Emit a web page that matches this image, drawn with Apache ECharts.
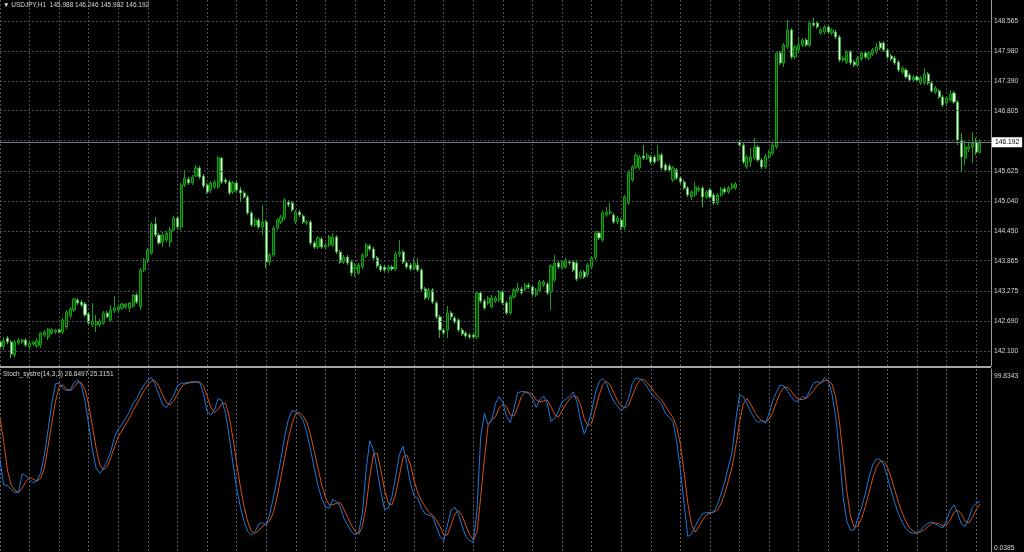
<!DOCTYPE html>
<html><head><meta charset="utf-8">
<script src="https://cdn.jsdelivr.net/npm/echarts@6/dist/echarts.min.js"></script>
<style>html,body{margin:0;padding:0;background:#000;}#c{width:1024px;height:552px;}</style>
</head><body><div id="c"></div><script>
const symbolName = 'USDJPY,H1';
const open = [142.277,142.199,142.356,142.277,142.023,142.258,142.277,142.316,142.179,142.238,
142.199,142.218,142.414,142.375,142.454,142.473,142.512,142.473,142.571,142.787,
142.904,143.100,143.061,143.022,142.826,142.610,142.610,142.610,142.649,142.845,
142.708,142.885,142.904,142.943,142.963,142.943,142.982,143.198,142.963,143.688,
143.884,144.021,144.589,144.373,144.236,144.275,144.236,144.471,144.706,144.530,
145.353,145.470,145.392,145.529,145.686,145.529,145.353,145.255,145.314,145.314,
145.882,145.451,145.412,145.216,145.392,145.255,145.196,145.118,144.804,144.569,
144.667,144.530,144.628,143.844,143.982,144.511,144.628,144.706,145.020,145.000,
144.628,144.824,144.746,144.608,144.628,144.217,144.138,144.295,144.138,144.177,
144.177,144.334,144.040,143.844,143.942,143.844,143.707,143.629,143.746,143.962,
144.158,144.099,143.923,143.766,143.746,143.688,143.746,143.707,144.001,144.040,
143.825,143.786,143.727,143.786,143.688,143.316,143.159,143.296,143.041,142.767,
142.512,142.512,142.845,142.747,142.708,142.512,142.454,142.414,142.414,142.375,
143.237,143.080,143.041,142.963,143.080,143.100,143.257,143.041,142.845,143.159,
143.276,143.316,143.316,143.394,143.355,143.198,143.296,143.394,143.413,143.257,
143.492,143.825,143.746,143.746,143.844,143.844,143.825,143.551,143.649,143.590,
143.746,143.923,144.413,144.275,144.765,144.804,144.765,144.628,144.667,144.530,
145.000,145.451,145.706,145.686,145.921,145.882,145.901,145.901,145.843,145.941,
145.745,145.725,145.451,145.647,145.490,145.412,145.294,145.118,145.157,145.255,
145.294,145.118,145.255,145.157,145.000,145.157,145.275,145.216,145.294,145.294,
146.195,146.136,145.706,145.803,145.882,146.097,145.843,145.706,145.901,145.980,
146.097,147.939,147.743,148.056,148.389,147.860,147.998,148.095,148.193,148.095,
148.526,148.526,148.331,148.350,148.448,148.331,148.350,148.252,147.802,147.762,
147.958,147.762,147.704,147.821,147.939,147.841,147.919,147.958,148.135,148.135,
147.998,147.880,147.841,147.762,147.567,147.606,147.508,147.410,147.469,147.351,
147.351,147.527,147.351,147.175,147.194,147.077,146.959,147.018,147.155,146.979,
146.234,145.882,146.058,146.097,146.195,145.988];
const close = [142.179,142.297,142.277,142.042,142.277,142.316,142.316,142.218,142.258,142.277,
142.297,142.454,142.473,142.532,142.512,142.512,142.473,142.708,142.865,142.924,
143.120,143.041,143.002,142.806,142.649,142.689,142.669,142.689,142.845,142.767,
142.904,142.943,142.963,143.022,143.022,143.041,143.198,143.061,143.688,143.884,
144.080,144.589,144.373,144.217,144.373,144.413,144.471,144.706,144.530,145.353,
145.490,145.392,145.510,145.686,145.510,145.333,145.216,145.392,145.412,145.882,
145.412,145.412,145.196,145.392,145.255,145.196,145.118,144.804,144.569,144.667,
144.530,144.628,143.844,143.982,144.511,144.667,144.726,145.059,144.961,144.863,
144.824,144.765,144.628,144.628,144.217,144.138,144.315,144.138,144.177,144.334,
144.334,144.040,143.844,143.942,143.825,143.629,143.746,143.786,143.982,144.177,
144.099,143.923,143.766,143.688,143.688,143.746,143.707,144.001,144.040,143.844,
143.746,143.707,143.825,143.688,143.316,143.139,143.296,143.061,142.767,142.512,
142.454,142.845,142.767,142.669,142.512,142.434,142.395,142.375,142.375,143.237,
143.080,142.943,143.139,143.139,143.139,143.257,143.041,142.845,143.159,143.296,
143.335,143.237,143.394,143.355,143.218,143.296,143.453,143.453,143.237,143.766,
143.825,143.746,143.844,143.884,143.825,143.688,143.511,143.649,143.551,143.786,
143.923,144.413,144.315,144.804,144.824,144.824,144.628,144.706,144.530,145.118,
145.608,145.706,145.941,145.901,145.882,145.941,145.803,145.803,145.941,145.686,
145.647,145.647,145.686,145.490,145.412,145.294,145.157,145.216,145.314,145.294,
145.118,145.216,145.118,145.000,145.157,145.275,145.216,145.294,145.353,145.372,
146.136,145.803,145.901,145.901,146.097,145.843,145.706,145.921,145.999,146.136,
147.939,147.743,148.095,148.389,147.860,148.056,148.095,148.193,148.095,148.526,
148.487,148.448,148.389,148.448,148.350,148.389,148.252,147.802,147.841,147.958,
147.743,147.704,147.841,147.939,147.860,147.939,147.998,148.056,148.037,147.998,
147.860,147.821,147.743,147.606,147.645,147.469,147.410,147.469,147.410,147.449,
147.527,147.351,147.194,147.253,147.077,146.920,147.057,147.136,146.979,146.234,
145.901,146.097,146.097,146.176,145.999,146.192];
const low = [142.081,142.121,142.238,141.964,141.983,142.218,142.238,142.179,142.121,142.199,
142.160,142.160,142.375,142.316,142.414,142.434,142.454,142.434,142.532,142.747,
142.865,143.002,142.963,142.767,142.610,142.571,142.473,142.571,142.610,142.747,
142.669,142.845,142.865,142.904,142.924,142.865,142.943,143.022,142.904,143.649,
143.825,143.982,144.334,144.177,144.138,144.236,144.138,144.432,144.491,144.471,
145.314,145.353,145.353,145.510,145.470,145.294,145.177,145.196,145.275,145.275,
145.372,145.372,145.157,145.177,145.216,145.020,145.079,144.765,144.530,144.530,
144.491,144.373,143.727,143.786,143.942,144.471,144.589,144.667,144.922,144.824,
144.589,144.726,144.589,144.569,144.177,144.099,144.099,144.099,144.099,144.138,
144.138,144.001,143.805,143.805,143.786,143.570,143.551,143.590,143.707,143.923,
144.060,143.884,143.727,143.649,143.649,143.629,143.668,143.668,143.942,143.805,
143.707,143.668,143.688,143.649,143.276,143.100,143.100,143.022,142.728,142.356,
142.414,142.356,142.708,142.630,142.473,142.395,142.356,142.336,142.336,142.336,
143.041,142.904,143.002,142.943,143.041,143.061,143.002,142.806,142.806,143.120,
143.237,143.198,143.276,143.316,143.178,143.159,143.257,143.355,143.198,142.904,
143.453,143.707,143.707,143.707,143.786,143.649,143.472,143.511,143.511,143.551,
143.707,143.884,144.275,144.236,144.726,144.765,144.589,144.589,144.471,144.471,
144.961,145.412,145.666,145.647,145.843,145.843,145.764,145.764,145.803,145.647,
145.608,145.608,145.412,145.451,145.372,145.255,145.118,145.059,145.118,145.216,
144.922,145.079,145.079,144.961,144.961,145.118,145.177,145.177,145.255,145.255,
146.097,145.764,145.666,145.706,145.843,145.803,145.666,145.666,145.862,145.941,
146.058,147.704,147.665,148.017,147.821,147.821,147.939,148.056,148.056,148.056,
148.448,148.409,148.291,148.311,148.311,148.291,148.213,147.762,147.762,147.723,
147.704,147.665,147.665,147.782,147.821,147.802,147.880,147.919,147.998,147.958,
147.821,147.782,147.704,147.567,147.527,147.429,147.371,147.371,147.371,147.312,
147.312,147.312,147.155,147.136,147.038,146.881,146.900,146.979,146.940,146.136,
145.608,145.745,145.999,145.784,145.941,145.982];
const high = [142.375,142.375,142.395,142.316,142.316,142.356,142.336,142.356,142.297,142.297,
142.356,142.473,142.512,142.552,142.552,142.532,142.532,142.747,142.904,142.963,
143.139,143.139,143.100,143.061,142.865,143.041,142.806,142.728,142.885,142.885,
143.002,143.178,143.002,143.041,143.041,143.061,143.218,143.237,143.727,143.923,
144.119,144.628,144.726,144.413,144.432,144.452,144.530,144.746,144.746,145.392,
145.647,145.510,145.549,145.745,145.725,145.568,145.392,145.431,145.451,145.921,
145.901,145.490,145.451,145.431,145.431,145.314,145.235,145.157,144.844,144.706,
144.706,144.961,144.667,144.021,144.550,144.706,144.765,145.098,145.059,145.039,
144.863,144.863,144.785,144.667,144.667,144.256,144.354,144.334,144.217,144.373,
144.413,144.373,144.080,143.982,143.982,143.884,143.825,143.825,144.021,144.217,
144.197,144.138,143.962,143.805,143.786,143.786,143.786,144.040,144.275,144.080,
143.864,143.825,143.923,143.923,143.727,143.355,143.335,143.335,143.080,142.806,
142.552,142.982,142.885,142.787,142.747,142.552,142.493,142.454,142.454,143.276,
143.276,143.120,143.178,143.198,143.178,143.296,143.296,143.080,143.198,143.335,
143.433,143.355,143.433,143.433,143.394,143.335,143.492,143.492,143.453,143.805,
143.982,143.864,143.884,143.923,143.884,143.884,143.864,143.688,143.688,143.825,
143.962,144.452,144.452,144.844,144.922,145.000,144.804,144.746,144.706,145.157,
145.647,145.745,145.980,145.941,146.136,145.980,145.941,145.941,146.136,145.980,
145.784,145.764,145.725,145.686,145.529,145.451,145.333,145.255,145.412,145.333,
145.333,145.255,145.294,145.196,145.196,145.314,145.314,145.333,145.392,145.412,
146.234,146.176,145.941,146.078,146.274,146.136,145.882,145.960,146.038,146.176,
147.978,147.978,148.135,148.585,148.428,148.095,148.252,148.233,148.233,148.566,
148.624,148.566,148.428,148.487,148.487,148.428,148.389,148.291,147.880,147.998,
147.998,147.802,147.880,147.978,147.978,147.978,148.037,148.135,148.174,148.174,
148.037,147.919,147.880,147.802,147.684,147.645,147.547,147.508,147.508,147.488,
147.645,147.567,147.390,147.292,147.233,147.116,147.096,147.214,147.194,147.018,
146.372,146.234,146.176,146.391,146.274,146.246];
const stochMain = [51.1,36.6,36.2,34.1,32.3,32.1,43.0,41.8,39.5,37.9,
39.1,43.4,54.0,68.5,84.0,95.3,95.7,92.7,91.4,91.8,
96.0,97.6,94.7,85.0,71.4,56.9,46.3,43.4,46.3,50.7,
56.3,64.7,68.9,71.8,75.3,79.2,84.0,86.9,91.4,94.7,
97.6,98.9,94.7,88.9,83.1,81.5,85.0,88.9,94.1,95.7,
95.8,96.2,96.6,96.6,96.0,89.8,79.2,77.3,80.2,86.9,
85.6,78.2,64.7,49.2,34.6,24.0,15.3,9.5,7.5,9.5,
13.9,14.7,13.3,20.1,29.8,40.4,52.1,64.7,74.7,79.8,
79.2,77.3,74.0,66.6,56.9,46.3,36.0,28.8,23.6,23.0,
28.2,26.9,24.0,17.2,13.3,9.5,7.5,8.9,20.1,45.3,
62.3,56.9,45.3,32.7,22.4,23.0,29.8,41.4,54.0,59.2,
49.2,37.5,30.2,28.8,23.0,19.7,19.0,18.2,12.4,6.6,
4.2,13.3,22.0,23.6,19.7,12.4,6.6,4.2,3.1,22.0,
64.7,78.2,71.4,74.3,84.0,87.9,
84.4,76.3,72.8,81.1,90.2,90.8,90.8,89.5,86.9,81.7,
86.0,88.3,84.0,73.4,75.3,79.2,85.0,86.4,87.9,90.6,
85.0,74.3,66.2,72.0,79.2,89.8,96.6,98.4,95.7,89.8,
85.0,82.5,79.6,82.1,86.9,95.7,98.8,98.4,96.6,93.7,
90.2,87.5,86.0,83.1,77.8,75.9,73.4,61.8,45.3,25.9,
6.6,8.1,12.4,16.6,19.7,20.5,20.5,20.9,25.0,31.3,
38.5,47.2,55.9,74.3,88.9,87.9,83.6,79.2,75.3,72.8,
74.0,72.4,78.2,85.6,90.6,94.7,94.1,91.0,87.9,85.0,
85.6,87.9,87.1,91.4,95.7,96.6,95.7,99.1,97.0,89.5,
76.3,55.0,29.8,15.3,10.4,10.4,17.2,23.6,31.3,41.0,
48.2,51.5,51.5,48.2,41.0,33.3,25.9,19.7,14.7,11.2,
9.1,8.5,8.5,10.4,12.8,14.3,15.1,13.9,12.4,11.6,
16.2,22.0,25.0,20.1,13.9,12.4,17.2,23.6,25.9,26.8497];
const stochSignal = [75.3,61.8,45.3,36.6,33.7,32.1,34.6,38.5,41.0,39.9,
38.9,40.4,46.3,58.9,72.4,85.0,93.7,94.7,92.2,91.4,
93.3,96.2,96.0,91.8,83.1,70.5,57.9,48.2,45.3,47.2,
52.7,58.9,64.7,68.1,72.0,75.3,79.8,83.6,87.5,91.4,
94.7,97.2,97.0,93.7,88.9,84.4,83.1,85.6,89.3,93.3,
95.3,95.8,96.2,96.4,96.4,94.1,88.3,81.7,78.6,80.5,
84.0,84.0,76.3,63.7,49.2,35.6,24.0,15.3,9.5,8.5,
10.0,12.8,13.9,15.8,21.1,30.2,41.4,52.7,63.7,72.4,
78.2,78.6,76.7,72.8,65.6,55.9,46.3,36.6,29.4,25.0,
25.0,25.9,26.3,22.4,17.8,13.3,9.5,7.9,12.4,24.0,
41.4,54.6,55.0,45.3,33.7,25.9,25.0,31.3,41.8,52.7,
54.0,48.6,38.9,32.1,27.3,24.0,20.5,19.0,16.2,12.4,
7.5,7.5,13.3,19.7,21.7,18.6,12.9,7.7,4.6,9.1,
29.8,51.7,71.4,74.7,76.3,81.5,
83.6,82.1,77.3,76.7,81.7,87.9,90.6,90.4,89.1,86.0,
84.8,85.4,86.0,82.1,77.6,75.9,79.8,83.5,86.4,88.3,
87.9,83.3,75.1,70.9,72.4,80.5,88.5,94.9,96.8,94.7,
90.2,85.6,82.5,81.3,82.9,88.3,93.7,97.6,98.0,96.2,
93.5,90.4,87.9,85.6,82.3,79.0,75.7,70.5,60.2,44.3,
25.9,13.5,9.1,12.4,16.2,19.0,20.3,20.7,22.0,25.7,
31.7,39.1,47.2,59.2,73.0,83.6,86.7,83.6,79.4,75.7,
74.0,73.0,74.9,78.8,84.8,90.2,93.1,93.3,91.0,87.9,
86.2,86.2,86.9,88.9,91.4,94.5,96.0,97.2,97.2,95.3,
87.5,73.6,53.6,33.3,18.6,12.0,12.8,17.0,24.0,31.9,
40.3,46.8,50.3,50.3,46.8,40.8,33.5,26.3,20.1,15.3,
11.6,9.7,8.7,9.3,10.6,12.4,14.1,14.5,13.9,12.8,
13.5,16.4,20.7,22.0,19.7,15.5,14.5,17.8,22.2,25.3151];
const priceTicks = [148.565,147.980,147.390,146.805,146.215,145.625,145.040,144.450,143.865,143.275,142.690,142.100];
const bidPrice = 146.192;
const stochScale = [0.0385, 99.8343];

const last = open.length - 1;
const shiftBars = 3;
const categories = open.map((_, i) => 'b' + i);
for (let k = 0; k < shiftBars; k++) categories.push('s' + k);
const candleData = open.map((o, i) => [o, close[i], low[i], high[i]]);
const priceLabels = priceTicks.filter(v => Math.abs(v - bidPrice) > 0.05);

const gridColor = '#4b4f55';
const textColor = '#d6d6d6';
const fontFam = '"Liberation Sans", Arial, sans-serif';
const xAxisBase = (g) => ({
  type: 'category', gridIndex: g, data: categories, boundaryGap: false,
  axisLine: {show: false}, axisTick: {show: false}, axisLabel: {show: false},
  splitLine: {show: true, interval: (i) => i % 8 === 0, lineStyle: {color: g ? '#5a5e63' : gridColor, type: [2, 2], width: 1}}
});

const chart = echarts.init(document.getElementById('c'), null, {renderer: 'canvas'});
chart.setOption({
  backgroundColor: '#000000',
  animation: false,
  grid: [
    {left: 0, width: 991, top: 0, height: 366},
    {left: 0, width: 991, top: 369, height: 183}
  ],
  xAxis: [xAxisBase(0), xAxisBase(1)],
  yAxis: [
    {type: 'value', gridIndex: 0, position: 'right', min: 141.807, max: 148.977,
     splitLine: {show: false}, axisTick: {show: false},
     axisLine: {show: true, lineStyle: {color: '#9a9a9a', width: 1}},
     axisLabel: {customValues: priceLabels, formatter: v => v.toFixed(3), color: textColor, fontSize: 6.7, fontFamily: fontFam, margin: 3}},
    {type: 'value', gridIndex: 1, position: 'right', min: -2.405, max: 103.961,
     splitLine: {show: false}, axisTick: {show: false},
     axisLine: {show: true, lineStyle: {color: '#9a9a9a', width: 1}},
     axisLabel: {customValues: stochScale, formatter: v => v.toFixed(4), color: textColor, fontSize: 6.7, fontFamily: fontFam, margin: 3}}
  ],
  series: [
    {type: 'line', xAxisIndex: 0, yAxisIndex: 0, data: [], z: 1, silent: true,
     markLine: {silent: true, symbol: 'none', animation: false,
       lineStyle: {color: gridColor, type: [2, 2], width: 1}, label: {show: false},
       data: priceTicks.map(v => ({yAxis: v}))}},
    {type: 'candlestick', xAxisIndex: 0, yAxisIndex: 0, data: candleData, barWidth: 2.6, z: 3,
     itemStyle: {color: '#064e06', borderColor: '#14a014', color0: '#e6ffe2', borderColor0: '#3bab3b', borderWidth: 1},
     markLine: {silent: true, symbol: 'none', animation: false,
       lineStyle: {color: '#6f7a86', type: 'solid', width: 1},
       label: {show: true, position: 'end', distance: 1, formatter: () => bidPrice.toFixed(3),
         backgroundColor: '#ffffff', color: '#000000', padding: [2, 3, 1, 3], fontSize: 6.7, fontFamily: fontFam},
       data: [{yAxis: bidPrice}]}},
    {type: 'line', xAxisIndex: 1, yAxisIndex: 1, data: stochMain, showSymbol: false, symbol: 'none',
     lineStyle: {color: '#1e78d6', width: 1}, z: 3},
    {type: 'line', xAxisIndex: 1, yAxisIndex: 1, data: stochSignal, showSymbol: false, symbol: 'none',
     lineStyle: {color: '#d2501a', width: 1}, z: 2}
  ],
  graphic: [
    {type: 'rect', shape: {x: 0, y: 366, width: 991, height: 2}, style: {fill: '#a6a6a6'}, z: 10},
    {type: 'text', left: 3, top: 2, z: 10, style: {
      text: '\u25BC ' + symbolName + '  ' + open[last].toFixed(3) + ' ' + high[last].toFixed(3) + ' ' + low[last].toFixed(3) + ' ' + close[last].toFixed(3),
      fill: textColor, fontSize: 6.5, fontFamily: fontFam}},
    {type: 'text', left: 3, top: 371, z: 10, style: {
      text: 'Stoch_systre(14,3,3) ' + stochMain[last].toFixed(4) + ' ' + stochSignal[last].toFixed(4),
      fill: textColor, fontSize: 6.5, fontFamily: fontFam}}
  ]
});
</script></body></html>
